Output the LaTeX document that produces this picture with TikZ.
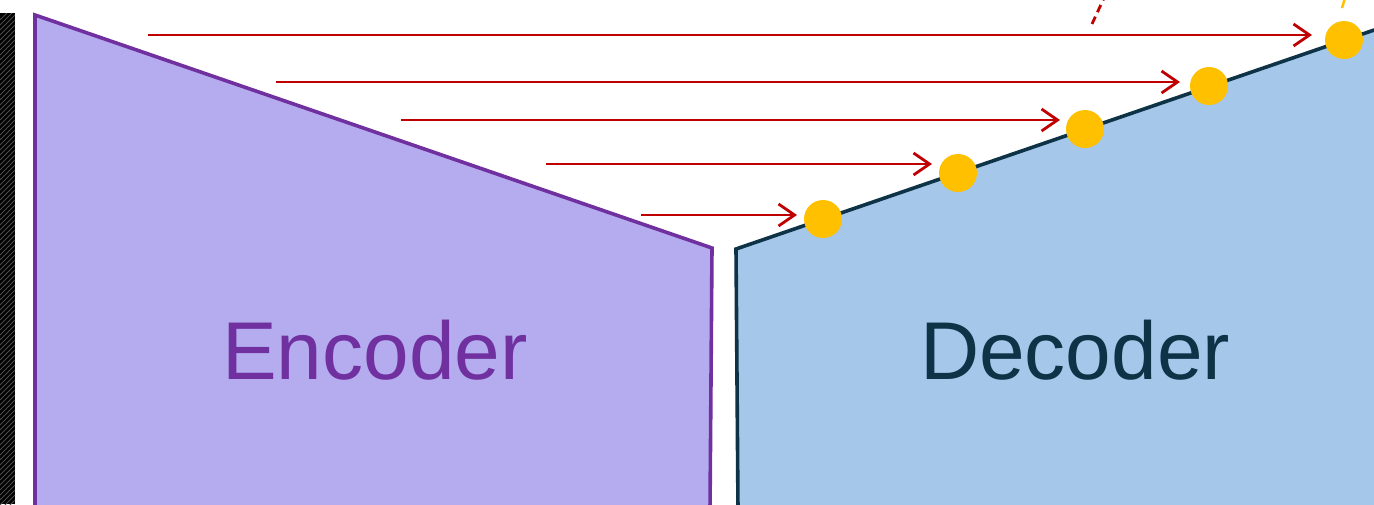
\documentclass[tikz,border=0pt]{standalone}
\usepackage{fontspec}
\setmainfont{Liberation Sans}
\usetikzlibrary{arrows.meta}
\definecolor{encfill}{HTML}{B4ACEE}
\definecolor{encline}{HTML}{7030A0}
\definecolor{decfill}{HTML}{A5C8EA}
\definecolor{decline}{HTML}{0E3347}
\definecolor{skipred}{HTML}{C00000}
\definecolor{dotyellow}{HTML}{FFC000}
\tikzset{
  encbox/.style={fill=encfill,draw=encline,line width=3.6pt,line join=miter},
  decbox/.style={fill=decfill,draw=decline,line width=3.6pt,line join=miter},
  dot/.style={circle,fill=dotyellow,minimum size=38pt,inner sep=0pt},
  skip/.style={draw=skipred,line width=2.8pt,-{Straight Barb[length=16pt,width=22pt,line width=2.8pt]}},
  lbl/.style={font=\fontsize{82}{90}\selectfont}
}
\begin{document}
\begin{tikzpicture}[x=1pt,y=-1pt]
\useasboundingbox (0,0) rectangle (1374,504);
% left textured strip
\fill[black] (0,13) rectangle (15,504);
\begin{scope}
\clip (0,13) rectangle (15,504);
\foreach \k in {0,5,...,520}{
  \draw[black!70,line width=1pt] (0,\k+20) -- (15,\k+5);
}
\end{scope}
% encoder
\draw[encbox] (35,15) -- (712,248) -- (710,510) -- (35,510) -- cycle;
\node[lbl,text=encline] (enc) at (375,350) {Encoder};
% decoder
\draw[decbox] (1380,28) -- (736,249) -- (738,510) -- (1380,510);
\fill[decfill] (1380,28) rectangle (1376,510);
\node[lbl,text=decline] (dec) at (1075,350) {Decoder};
% dashed bits at top
\coordinate (r1) at (1092,24);
\coordinate (r2) at (1104,-2);
\draw[skipred,line width=2.8pt,dash pattern=on 8pt off 5pt] (r1) -- (r2);
\coordinate (y1) at (1342,8);
\coordinate (y2) at (1345,-2);
\draw[dotyellow,line width=2.5pt] (y1) -- (y2);
% dots
\node[dot] (c1) at (823,219) {};
\node[dot] (c2) at (958,173) {};
\node[dot] (c3) at (1085,129) {};
\node[dot] (c4) at (1209,86) {};
\node[dot] (c5) at (1344,40) {};
% skip connections
\coordinate (s1) at (641,215);  \coordinate (e1) at (797,215);
\coordinate (s2) at (546,164);  \coordinate (e2) at (932,164);
\coordinate (s3) at (401,120);  \coordinate (e3) at (1060,120);
\coordinate (s4) at (276,82);   \coordinate (e4) at (1180,82);
\coordinate (s5) at (148,35);   \coordinate (e5) at (1312,35);
\draw[skip] (s1) -- (e1);
\draw[skip] (s2) -- (e2);
\draw[skip] (s3) -- (e3);
\draw[skip] (s4) -- (e4);
\draw[skip] (s5) -- (e5);
\end{tikzpicture}
\end{document}
